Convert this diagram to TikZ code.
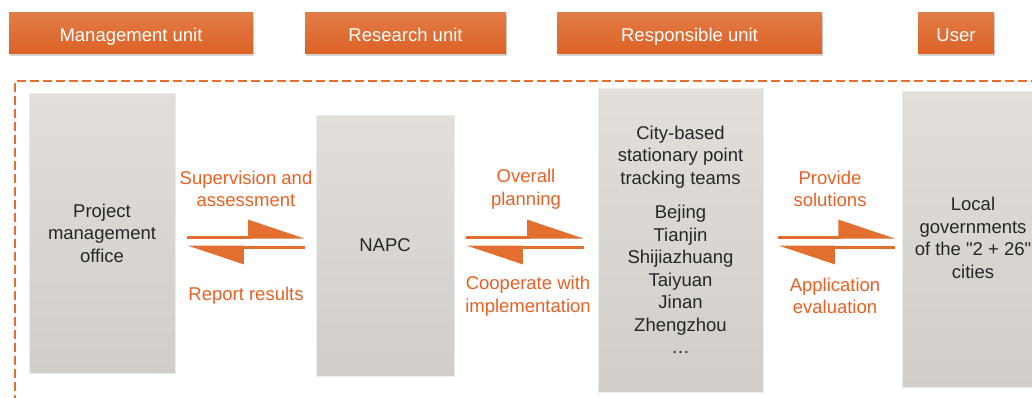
\documentclass[tikz,border=0pt]{standalone}
\usepackage{fontspec}
\setmainfont{Liberation Sans}[Ligatures=TeXOff]
\usetikzlibrary{arrows.meta,shadows}

\definecolor{unitorange}{RGB}{220,98,38}
\definecolor{unitlight}{RGB}{226,124,70}
\definecolor{flow}{RGB}{226,110,48}
\definecolor{flowtext}{RGB}{232,96,36}
\definecolor{boxtop}{RGB}{226,223,219}
\definecolor{boxbottom}{RGB}{209,205,200}

\tikzset{
  unit/.style={top color=unitlight, bottom color=unitorange, text=white,
    minimum height=41pt, inner sep=0pt, text height=17pt, text depth=0pt,
    drop shadow={opacity=0.35, shadow xshift=1pt, shadow yshift=-2pt}},
  rect/.style={top color=boxtop, bottom color=boxbottom, draw=black!8,
    line width=0.6pt, text=black!85, align=center, inner sep=0pt},
  fwd/.style={draw=flow, line width=3pt,
    -{Triangle[harpoon, length=52pt, width=34pt]}},
  lbl/.style={text=flowtext, align=center}
}

\begin{document}
\begin{tikzpicture}[x=1pt, y=-1pt, font=\fontsize{18.5}{22.5}\selectfont]
  \useasboundingbox (0,0) rectangle (1032,397);

  % unit headings
  \node[unit, minimum width=244pt] at (131,33) (mgmt) {Management unit};
  \node[unit, minimum width=201pt] at (405.5,33) (research) {Research unit};
  \node[unit, minimum width=265pt] at (689.5,33) (responsible) {Responsible unit};
  \node[unit, minimum width=76pt] at (956,33) (user) {User};

  % dashed frame
  \draw[flow, line width=2.5pt, dash pattern=on 9pt off 4pt] (1040,81) -| (15,400);

  % units
  \begin{scope}
    \clip (0,0) rectangle (1032,397);
    \node[rect, minimum width=146pt, minimum height=280pt] at (102,233) (pmo)
      {Project\\ management\\ office};
    \node[rect, minimum width=138pt, minimum height=261pt] at (385,245.5) (napc) {NAPC};
    \node[rect, minimum width=165pt, minimum height=304pt] at (680.5,240) (teams)
      {City-based\\ stationary point\\ tracking teams\\[12pt]
       Bejing\\ Tianjin\\ Shijiazhuang\\ Taiyuan\\ Jinan\\ Zhengzhou\\ \dots};
    \node[rect, minimum width=146pt, minimum height=296pt, anchor=west] at (902,239) (govt) {};
    \node[align=center, text=black!85] at (973,238) (govt_text)
      {Local\\ governments\\ of the "2 + 26"\\ cities};
  \end{scope}

  \coordinate (upper) at (0,237);
  \coordinate (lower) at (0,247);

  % flows between the units
  \draw[fwd] ([xshift=12pt]pmo.east |- upper) -- ([xshift=-11pt]napc.west |- upper);
  \draw[fwd] ([xshift=-11pt]napc.west |- lower) -- ([xshift=12pt]pmo.east |- lower);
  \draw[fwd] ([xshift=12pt]napc.east |- upper) -- ([xshift=-14pt]teams.west |- upper);
  \draw[fwd] ([xshift=-14pt]teams.west |- lower) -- ([xshift=12pt]napc.east |- lower);
  \draw[fwd] ([xshift=15pt]teams.east |- upper) -- ([xshift=-7pt]govt.west |- upper);
  \draw[fwd] ([xshift=-7pt]govt.west |- lower) -- ([xshift=15pt]teams.east |- lower);

  \node[lbl] at (246,189) (supervise) {Supervision and\\ assessment};
  \node[lbl] at (246,296) (report) {Report results};
  \node[lbl] at (526,189) (planning) {Overall\\ planning};
  \node[lbl] at (528,296) (cooperate) {Cooperate with\\ implementation};
  \node[lbl] at (830,189) (solutions) {Provide\\ solutions};
  \node[lbl] at (835,296) (evaluation) {Application\\ evaluation};

\end{tikzpicture}
\end{document}
